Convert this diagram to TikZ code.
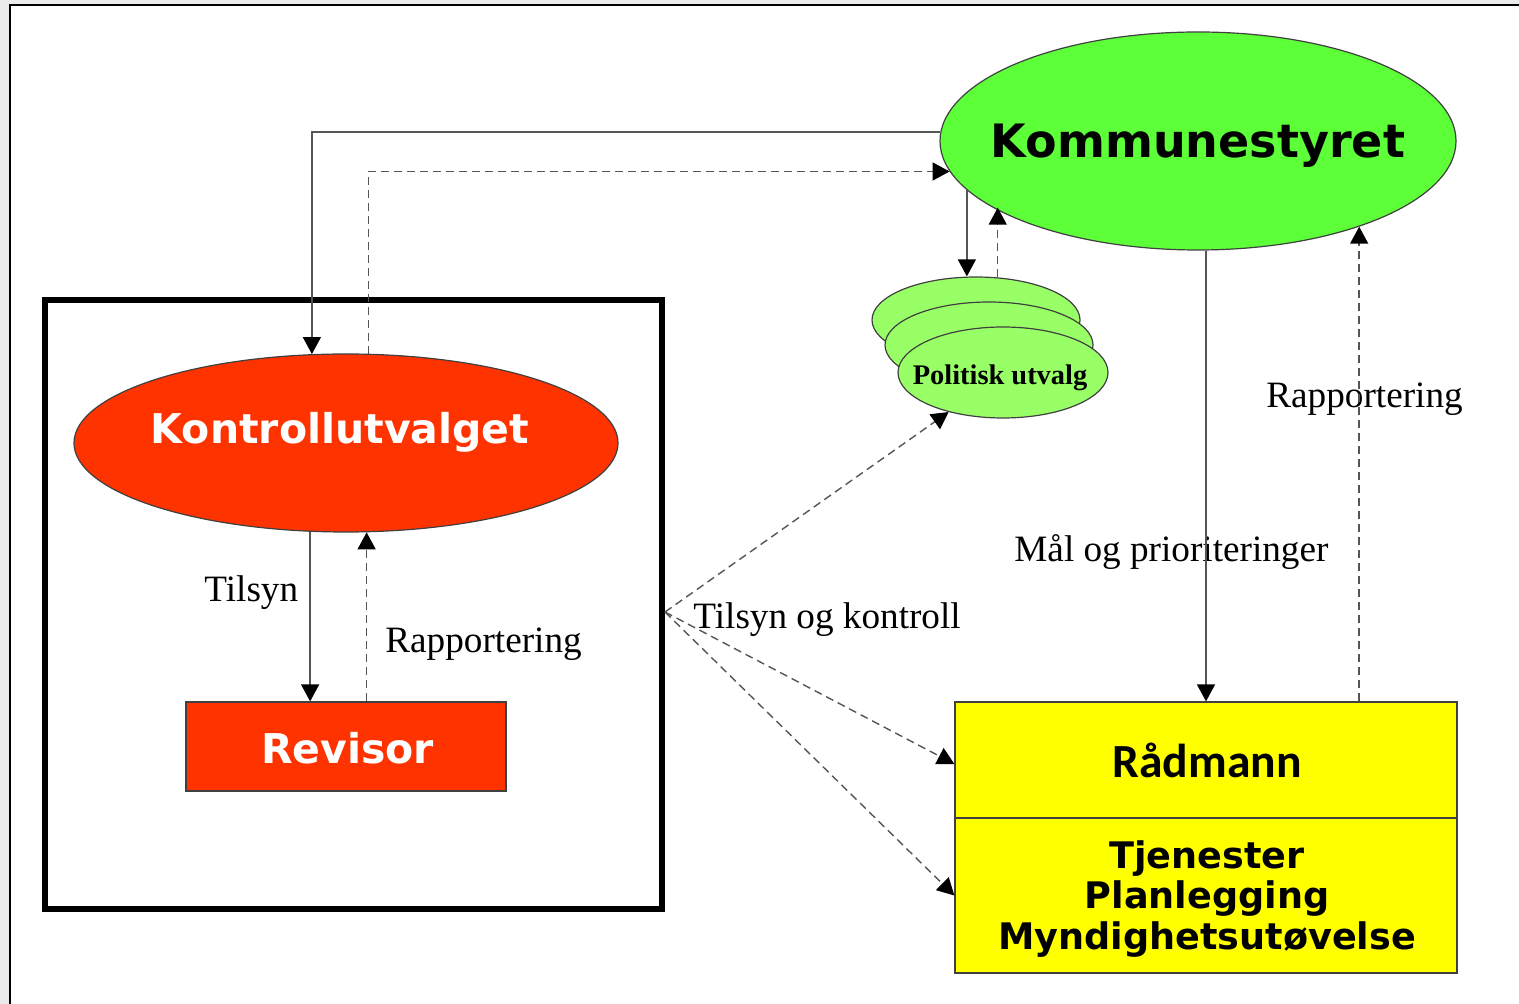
\documentclass[tikz,border=0pt]{standalone}
\usepackage{fontspec}
\setmainfont{Liberation Serif}
\newfontfamily\dvs{DejaVu Sans}
\newfontfamily\carl{Carlito}
\usetikzlibrary{arrows.meta,shapes.geometric,calc}
\definecolor{ksgreen}{RGB}{92,255,56}
\definecolor{pugreen}{RGB}{153,255,102}
\definecolor{kvred}{RGB}{255,51,0}
\definecolor{radyel}{RGB}{255,255,0}
\definecolor{lngray}{RGB}{85,85,85}
\definecolor{bggray}{RGB}{235,235,235}
\tikzset{
  shapeborder/.style={draw=black!75, line width=0.6pt},
  conn/.style={draw=lngray, line width=0.7pt, -{Triangle[length=8.5pt,width=9pt,black]}},
  dconn/.style={conn, dash pattern=on 4pt off 2.5pt},
  lbl/.style={inner sep=0pt, anchor=base west, font=\fontsize{18.6}{22}\selectfont},
  bigsans/.style={inner sep=0pt, anchor=base, font=\dvs\bfseries\fontsize{23}{27}\selectfont},
  midsans/.style={inner sep=0pt, anchor=base, font=\dvs\bfseries\fontsize{20.5}{24}\selectfont, text=white},
}
\begin{document}
\begin{tikzpicture}[x=0.5pt,y=-0.5pt]
\useasboundingbox (0,0) rectangle (1519,1004);
\fill[bggray] (0,0) rectangle (1519,1004);
\fill[white] (10,5) rectangle (1525,1010);
\draw[line width=1pt] (10,1010) -- (10,5) -- (1525,5);

% big black box
\node[draw=black, line width=3pt, minimum width=308.5pt, minimum height=304.5pt, inner sep=0pt] (kbox) at (353.5,604.5) {};

% nodes
\node[ellipse, shapeborder, fill=ksgreen, minimum width=258pt, minimum height=109pt, inner sep=0pt] (ks) at (1198,141) {};
\node[bigsans] (kst) at (1198,158) {Kommunestyret};

\node[ellipse, shapeborder, fill=kvred, minimum width=272pt, minimum height=89pt, inner sep=0pt] (kv) at (346,443) {};
\node[midsans] (kvt) at (340,444) {Kontrollutvalget};

\node[shapeborder, fill=kvred, minimum width=160pt, minimum height=44.5pt, inner sep=0pt] (rev) at (346,746.5) {};
\node[midsans] (revt) at (347.5,763) {Revisor};

\node[ellipse, shapeborder, fill=pugreen, minimum width=104pt, minimum height=43pt, inner sep=0pt] (p1) at (976,320) {};
\node[ellipse, shapeborder, fill=pugreen, minimum width=104pt, minimum height=43pt, inner sep=0pt] (p2) at (989,345) {};
\node[ellipse, shapeborder, fill=pugreen, minimum width=105pt, minimum height=45.5pt, inner sep=0pt] (p3) at (1003,372.5) {};
\node[inner sep=0pt, anchor=base, font=\bfseries\fontsize{14.2}{16}\selectfont] (p3t) at (1000,385) {Politisk utvalg};

\node[shapeborder, fill=radyel, minimum width=251pt, minimum height=58pt, inner sep=0pt] (rad1) at (1206,760) {};
\node[shapeborder, fill=radyel, minimum width=251pt, minimum height=77.5pt, inner sep=0pt] (rad2) at (1206,895.5) {};
\node[inner sep=0pt, anchor=base, font=\carl\bfseries\fontsize{23.8}{28}\selectfont] (radt) at (1207,777) {Rådmann};
\node[inner sep=0pt, anchor=base, font=\dvs\bfseries\fontsize{18.3}{20}\selectfont] (tj1) at (1207,868) {Tjenester};
\node[inner sep=0pt, anchor=base, font=\dvs\bfseries\fontsize{18.3}{20}\selectfont] (tj2) at (1207,908) {Planlegging};
\node[inner sep=0pt, anchor=base, font=\dvs\bfseries\fontsize{18.3}{20}\selectfont] (tj3) at (1207,949) {Myndighetsutøvelse};

% labels
\node[lbl] (l1) at (204,602) {Tilsyn};
\node[lbl] (l2) at (385,653) {Rapportering};
\node[lbl] (l3) at (693,628) {Tilsyn og kontroll};
\node[lbl] (l4) at (1014,562) {Mål og prioriteringer};
\node[lbl] (l5) at (1266,408) {Rapportering};

% connectors
\draw[conn] (ks.178.2) -| (kv.111.1);
\draw[dconn] (kv.76.1) |- (ks.187.4);
\draw[conn] (ks.192.1) -- (ks.192.1 |- p1.north);
\draw[dconn] (p1.63.5) -- (p1.63.5 |- ks.198.8);
\draw[conn] (ks.south -| rad1.north) -- (rad1.north);
\draw[dconn] (rad1.north -| ks.332.4) -- (ks.332.4);
\draw[conn] (kv.248.9) -- (kv.248.9 |- rev.north);
\draw[dconn] (rev.north -| kv.283.9) -- (kv.283.9);

\coordinate (tk) at (665,612);
\draw[dconn] (tk) -- (p3.216);
\draw[dconn] (tk) -- ($(rad1.west)+(0,4)$);
\draw[dconn] (tk) -- (rad2.west);
\end{tikzpicture}
\end{document}
